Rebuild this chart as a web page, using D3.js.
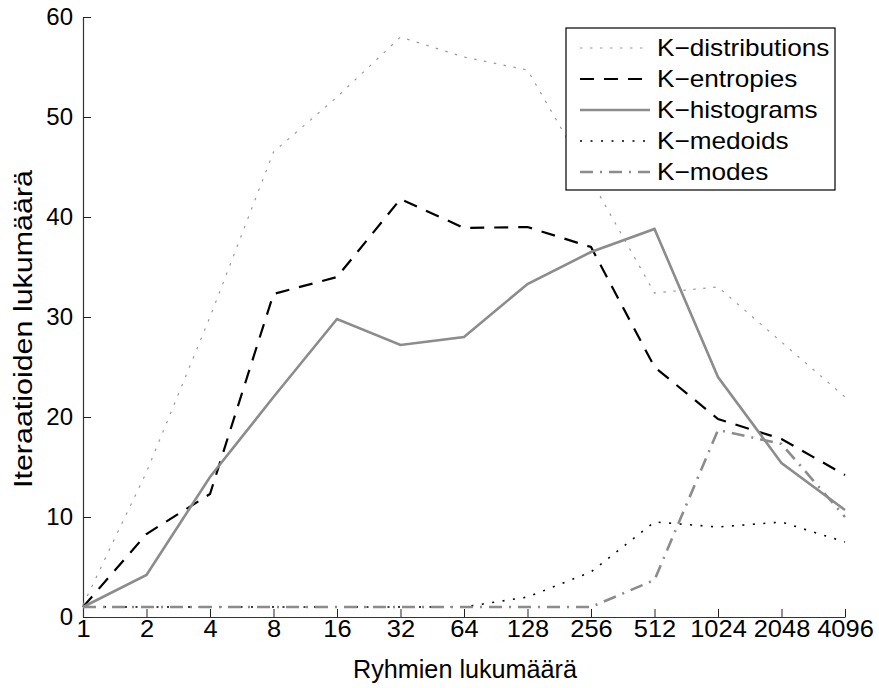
<!DOCTYPE html>
<html>
<head>
<meta charset="utf-8">
<script src="https://cdn.jsdelivr.net/npm/d3@7"></script>
<style>
  body { margin: 0; background: #fff; }
  svg { display: block; }
  text { font-family: "Liberation Sans", Arial, Helvetica, sans-serif; }
</style>
</head>
<body>
<svg id="chart" width="879" height="688"></svg>
<script>
// group counts (x, log2 steps)
var groups = ['1', '2', '4', '8', '16', '32', '64', '128', '256', '512', '1024', '2048', '4096'];
var yTicks = [0, 10, 20, 30, 40, 50, 60];

// iteration counts per method
var kDistributions = [1.2, 14.5, 30, 46.5, 52, 58, 56, 54.7, 43.7, 32.4, 33, 27.5, 22];
var kEntropies     = [1, 8.3, 12.3, 32.3, 34, 41.8, 38.9, 39, 37, 25, 19.8, 17.8, 14.2];
var kHistograms    = [1, 4.2, 14, 22, 29.8, 27.2, 28, 33.3, 36.5, 38.8, 24, 15.4, 10.7];
var kMedoids       = [1, 1, 1, 1, 1, 1, 1, 2, 4.5, 9.5, 9, 9.5, 7.5];
var kModes         = [1, 1, 1, 1, 1, 1, 1, 1, 1, 3.7, 18.7, 17.3, 10];

var seriesNames = ['K\u2212distributions', 'K\u2212entropies', 'K\u2212histograms', 'K\u2212medoids', 'K\u2212modes'];
var seriesData = [kDistributions, kEntropies, kHistograms, kMedoids, kModes];
var seriesStyle = [
    {stroke: '#9a9a9a', width: 1.2, dash: '2.5,7.5'},
    {stroke: '#000000', width: 2.2, dash: '14,10'},
    {stroke: '#8c8c8c', width: 2.6, dash: null},
    {stroke: '#000000', width: 1.6, dash: '2,8.5'},
    {stroke: '#8c8c8c', width: 2.6, dash: '13,7,2,7'}
];

var svg = d3.select('#chart'),
    MARGINS = {top: 17, right: 34, bottom: 71, left: 83},
    WIDTH = 879,
    HEIGHT = 688;

// the reference font runs a bit wider than Liberation Sans
function stretch(sel, k){
    sel.each(function(){
        var w = this.getComputedTextLength();
        d3.select(this).attr('textLength', w * k).attr('lengthAdjust', 'spacingAndGlyphs');
    });
}

var x = d3.scalePoint()
    .domain(groups)
    .range([MARGINS.left, WIDTH - MARGINS.right]);

var y = d3.scaleLinear()
    .domain([0, 60])
    .range([HEIGHT - MARGINS.bottom, MARGINS.top]);

var xAxis = d3.axisBottom(x).tickSizeInner(-8).tickSizeOuter(0).tickPadding(3);
var yAxis = d3.axisLeft(y).tickValues(yTicks).tickSizeInner(-8).tickSizeOuter(0).tickPadding(10);

var gx = svg.append('g')
    .attr('transform', 'translate(0,' + (HEIGHT - MARGINS.bottom) + ')')
    .call(xAxis);
var gy = svg.append('g')
    .attr('transform', 'translate(' + MARGINS.left + ',0)')
    .call(yAxis);

[gx, gy].forEach(function(g){
    g.selectAll('text').attr('font-size', 24).attr('fill', '#000')
        .attr('font-family', '"Liberation Sans", Arial, sans-serif');
    g.selectAll('line').attr('stroke', '#222').attr('stroke-width', 1);
    g.select('.domain').attr('stroke', '#333').attr('stroke-width', 1.2);
});
stretch(gx.selectAll('text'), 1.06);

// lines
var lineFunc = d3.line()
    .x(function(d, i){ return x(groups[i]); })
    .y(function(d){ return y(d); });

for (let h = 0; h < seriesData.length; h++){
    var p = svg.append('path')
        .attr('d', lineFunc(seriesData[h]))
        .attr('fill', 'none')
        .attr('stroke', seriesStyle[h].stroke)
        .attr('stroke-width', seriesStyle[h].width);
    if (seriesStyle[h].dash) p.attr('stroke-dasharray', seriesStyle[h].dash);
}

// axis labels
svg.append('text')
    .attr('x', 465)
    .attr('y', 678)
    .attr('text-anchor', 'middle')
    .attr('font-size', 25)
    .attr('textLength', 224)
    .attr('lengthAdjust', 'spacingAndGlyphs')
    .text('Ryhmien lukumäärä');

svg.append('text')
    .attr('transform', 'translate(32,329) rotate(-90)')
    .attr('text-anchor', 'middle')
    .attr('font-size', 25)
    .attr('textLength', 318)
    .attr('lengthAdjust', 'spacingAndGlyphs')
    .text('Iteraatioiden lukumäärä');

// legend
var legend = svg.append('g').attr('transform', 'translate(566,28)');
legend.append('rect')
    .attr('width', 269)
    .attr('height', 162)
    .attr('fill', '#fff')
    .attr('stroke', '#000')
    .attr('stroke-width', 1.2);

seriesNames.forEach(function(name, i){
    var cy = 20 + i * 31;
    var l = legend.append('line')
        .attr('x1', 14).attr('x2', 84)
        .attr('y1', cy).attr('y2', cy)
        .attr('stroke', seriesStyle[i].stroke)
        .attr('stroke-width', seriesStyle[i].width);
    if (seriesStyle[i].dash) l.attr('stroke-dasharray', seriesStyle[i].dash);
    var t = legend.append('text')
        .attr('x', 91)
        .attr('y', cy)
        .attr('dy', '0.35em')
        .attr('font-size', 24)
        .text(name);
    stretch(t, 1.09);
});
</script>
</body>
</html>
